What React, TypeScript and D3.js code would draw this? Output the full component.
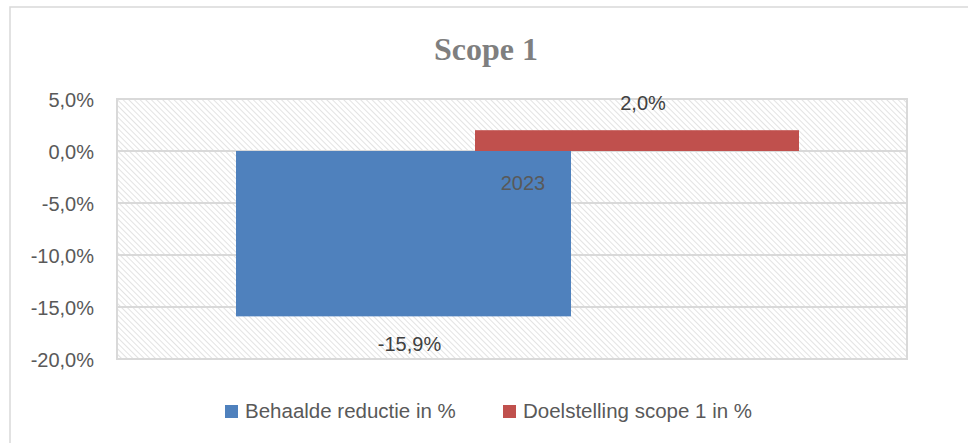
import React from 'react';
import * as d3 from 'd3';

const categories = ['2023'];
const seriesNames = ['Behaalde reductie in %', 'Doelstelling scope 1 in %'];
const seriesValues = [-15.9, 2.0];
const seriesColors = ['#4f81bd', '#c0504d'];
const yTicks = [5, 0, -5, -10, -15, -20];

const W = 968;
const H = 443;
const plot = { left: 117, top: 99, right: 907, bottom: 359 };
const font = '"Liberation Sans", Arial, sans-serif';
const textColor = '#595959';

const fmt = (v: number) => v.toFixed(1).replace('.', ',') + '%';

export default function App() {
  const y = d3.scaleLinear().domain([-20, 5]).range([plot.bottom, plot.top]);
  const x0 = d3.scaleBand().domain(categories).range([plot.left, plot.right]);
  // bar centres inside the category band (Excel-style overlapping bars)
  const barW = [335, 324];
  const x1 = d3
    .scalePoint()
    .domain(seriesNames)
    .range([119 + barW[0] / 2, x0.bandwidth() - 108 - barW[1] / 2]);

  return (
    <svg width={W} height={H} style={{ position: 'fixed', left: 0, top: 0 }}>
      <defs>
        <pattern id="hatch" width="4" height="4" patternUnits="userSpaceOnUse" patternTransform="rotate(-45)">
          <rect width="4" height="4" fill="#ffffff" />
          <line x1="0" y1="0" x2="0" y2="4" stroke="#d0d0d0" strokeWidth="1.2" />
        </pattern>
      </defs>
      <rect width={W} height={H} fill="#ffffff" />
      <rect x={10} y={7} width={W + 20} height={H + 20} fill="none" stroke="#d9d9d9" strokeWidth={1.5} />

      <text x={486} y={60} textAnchor="middle" fontFamily='"Liberation Serif", serif' fontWeight="bold" fontSize={32} fill="#7f7f7f">
        Scope 1
      </text>

      <rect x={plot.left} y={plot.top} width={plot.right - plot.left} height={plot.bottom - plot.top} fill="url(#hatch)" />
      {yTicks.map((t) => (
        <g key={t}>
          <line x1={plot.left} x2={plot.right} y1={y(t)} y2={y(t)} stroke="#d9d9d9" strokeWidth={2} />
          <text x={94} y={y(t) + 8} textAnchor="end" fontFamily={font} fontSize={20} fill={textColor}>
            {fmt(t)}
          </text>
        </g>
      ))}
      <rect x={plot.left} y={plot.top} width={plot.right - plot.left} height={plot.bottom - plot.top} fill="none" stroke="#d9d9d9" strokeWidth={2} />

      {categories.map((c) => (
        <g key={c} transform={`translate(${x0(c)},0)`}>
          {seriesNames.map((s, i) => {
            const v = seriesValues[i];
            const cx = x1(s) as number;
            const top = y(Math.max(0, v));
            const bot = y(Math.min(0, v));
            return (
              <g key={s}>
                <rect x={cx - barW[i] / 2} y={top} width={barW[i]} height={bot - top} fill={seriesColors[i]} />
                <text
                  x={cx + 6}
                  y={v >= 0 ? top - 20 : bot + 35}
                  textAnchor="middle"
                  fontFamily={font}
                  fontSize={20}
                  fill="#404040"
                >
                  {fmt(v)}
                </text>
              </g>
            );
          })}
          <text x={x0.bandwidth() / 2 + 11} y={190} textAnchor="middle" fontFamily={font} fontSize={20} fill={textColor}>
            {c}
          </text>
        </g>
      ))}

      {seriesNames.map((s, i) => {
        const lx = [225, 503][i];
        return (
          <g key={s}>
            <rect x={lx} y={405} width={13} height={13} fill={seriesColors[i]} />
            <text x={lx + 20} y={418} fontFamily={font} fontSize={20.5} fill={textColor}>
              {s}
            </text>
          </g>
        );
      })}
    </svg>
  );
}
